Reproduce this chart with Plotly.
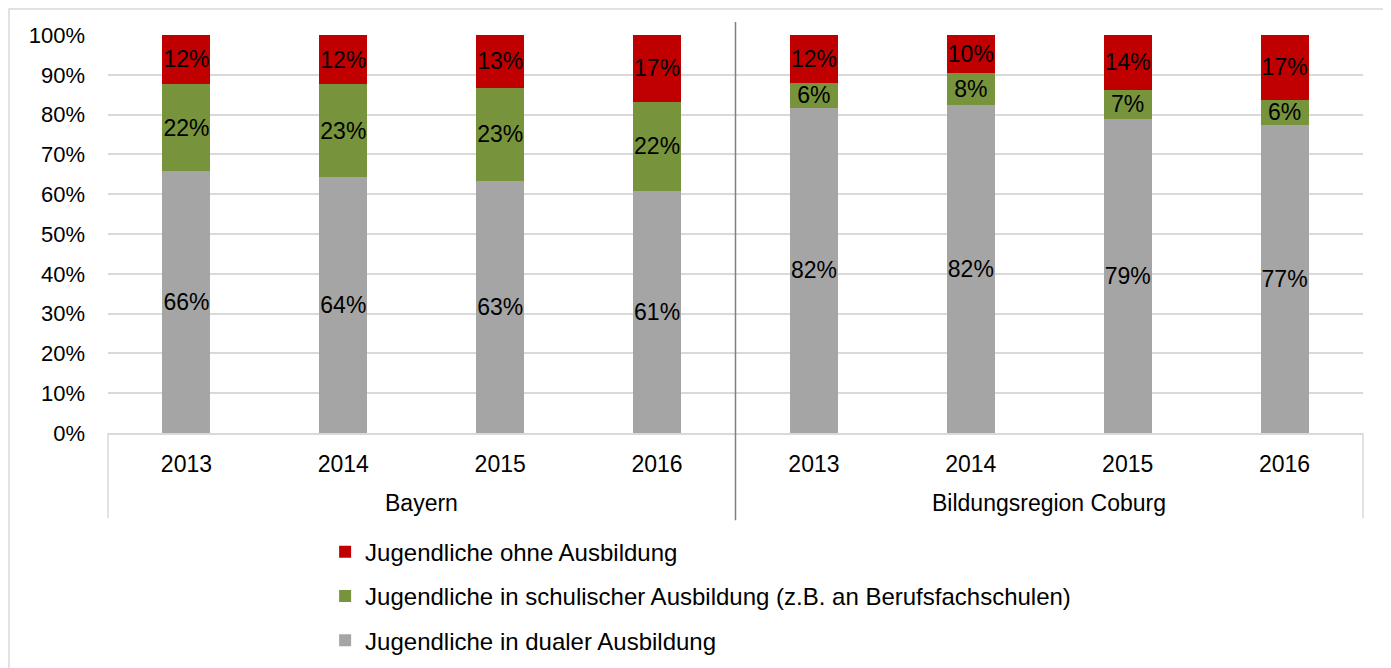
import plotly.graph_objects as go

regions = ["Bayern"] * 4 + ["Bildungsregion Coburg"] * 4
years = ["2013", "2014", "2015", "2016"] * 2
group_labels = ["Bayern", "Bildungsregion Coburg"]

dual = [65.8, 64.4, 63.4, 60.8, 81.7, 82.4, 78.9, 77.4]
schulisch = [21.9, 23.2, 23.4, 22.4, 6.2, 8.1, 7.3, 6.3]
ohne = [12.3, 12.4, 13.2, 16.8, 12.1, 9.5, 13.8, 16.6]

series = [
    ("Jugendliche in dualer Ausbildung", dual, "#a5a5a5", 3),
    ("Jugendliche in schulischer Ausbildung (z.B. an Berufsfachschulen)", schulisch, "#77933c", 2),
    ("Jugendliche ohne Ausbildung", ohne, "#c00000", 1),
]

FONT = "Liberation Sans, Arial, sans-serif"
x_keys = [r + " " + y for r, y in zip(regions, years)]

fig = go.Figure()
for name, vals, color, rank in series:
    fig.add_trace(go.Bar(
        x=x_keys, y=vals, name=name, legendgroup=name, legendrank=rank,
        marker=dict(color=color, line=dict(width=0)),
        texttemplate="%{y:.0f}%", textposition="inside",
        insidetextanchor="middle", textangle=0,
        textfont=dict(family=FONT, size=23, color="black"),
        constraintext="none",
        hoverinfo="skip",
    ))

W, H = 1383, 660
L, T, PW, PH = 100, 27, 1255, 398

fig.update_layout(
    barmode="stack",
    bargap=0.694,
    width=W, height=H,
    margin=dict(l=L, r=W - L - PW, t=T, b=H - T - PH, autoexpand=False),
    plot_bgcolor="white", paper_bgcolor="white",
    font=dict(family=FONT, size=23, color="black"),
    legend=dict(
        x=0.173, y=-0.243, xanchor="left", yanchor="top",
        traceorder="grouped", font=dict(size=24),
        itemwidth=30, tracegroupgap=10,
        bgcolor="rgba(0,0,0,0)",
    ),
    showlegend=True,
)

fig.update_yaxes(
    range=[0, 100], dtick=10, ticksuffix="%",
    showgrid=True, gridcolor="#d9d9d9", gridwidth=1.5,
    zeroline=False, showline=False, automargin=False,
    ticklabelstandoff=22, tickfont=dict(size=22),
)
fig.update_xaxes(
    type="category", tickvals=x_keys, ticktext=years,
    showline=True, linecolor="#d9d9d9", linewidth=1.5, automargin=False,
    tickfont=dict(size=23), ticks="", ticklabelstandoff=10,
)

# group labels
for i, g in enumerate(group_labels):
    fig.add_annotation(text=g, xref="paper", yref="paper",
                       x=0.25 + 0.5 * i, y=-0.176, showarrow=False,
                       xanchor="center", yanchor="middle",
                       font=dict(family=FONT, size=23, color="black"))

# axis dividers
for xp in (0, 1):
    fig.add_shape(type="line", xref="paper", yref="paper",
                  x0=xp, x1=xp, y0=-0.2136, y1=0,
                  line=dict(color="#d9d9d9", width=1.5))
# group separator line
fig.add_shape(type="line", xref="paper", yref="paper",
              x0=0.5, x1=0.5, y0=-0.219, y1=1.0327,
              line=dict(color="#7f7f7f", width=1.5))
# outer chart border
fig.add_shape(type="rect", xref="paper", yref="paper",
              x0=-0.0789, x1=1.0175, y0=-0.7, y1=1.0653,
              line=dict(color="#d9d9d9", width=1.5), layer="below")

fig.write_html("out.html")
